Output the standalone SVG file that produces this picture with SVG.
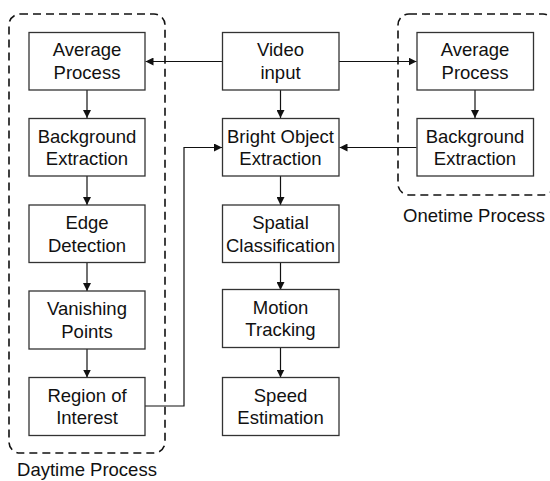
<svg xmlns="http://www.w3.org/2000/svg" width="550" height="481" viewBox="0 0 550 481">
<defs>
<marker id="arr" viewBox="0 0 10 10" refX="10" refY="5" markerWidth="8" markerHeight="8" markerUnits="userSpaceOnUse" orient="auto">
<path d="M0,0 L10,5 L0,10 z" fill="#111"/>
</marker>
<style>
.box{fill:#fff;stroke:#333;stroke-width:1.3}
.grp{fill:none;stroke:#111;stroke-width:1.6;stroke-dasharray:8 5}
.t{font-family:"Liberation Sans",Arial,sans-serif;font-size:18.5px;fill:#111;text-anchor:middle}
.c{fill:none;stroke:#111;stroke-width:1.2;marker-end:url(#arr)}
</style>
</defs>
<rect width="550" height="481" fill="#fff"/>
<g id="daytime-group">
<rect class="grp" x="9" y="14" width="156" height="439" rx="11"/>
<text class="t" x="87" y="476">Daytime Process</text>
</g>
<g id="onetime-group">
<rect class="grp" x="398" y="14" width="156" height="181" rx="11"/>
<text class="t" x="474" y="222">Onetime Process</text>
</g>
<g id="connectors">
<line class="c" x1="222" y1="61.5" x2="145.5" y2="61.5"/>
<line class="c" x1="339" y1="61.5" x2="416.5" y2="61.5"/>
<line class="c" x1="280.5" y1="90" x2="280.5" y2="118"/>
<line class="c" x1="475" y1="90" x2="475" y2="118"/>
<line class="c" x1="416.5" y1="147.5" x2="339.5" y2="147.5"/>
<line class="c" x1="87" y1="90" x2="87" y2="118"/>
<line class="c" x1="87" y1="176" x2="87" y2="205"/>
<line class="c" x1="87" y1="263" x2="87" y2="291"/>
<line class="c" x1="87" y1="349" x2="87" y2="377.5"/>
<polyline class="c" points="145,406 184,406 184,147.5 222,147.5"/>
<line class="c" x1="280.5" y1="176" x2="280.5" y2="205"/>
<line class="c" x1="280.5" y1="263" x2="280.5" y2="290"/>
<line class="c" x1="280.5" y1="347.5" x2="280.5" y2="377.5"/>
</g>
<g id="avg-left"><rect class="box" x="29" y="32.5" width="116" height="57.5"/><text class="t" x="87" y="56">Average</text><text class="t" x="87" y="78.5">Process</text></g>
<g id="bg-left"><rect class="box" x="29" y="118.5" width="116" height="57.5"/><text class="t" x="87" y="142.5">Background</text><text class="t" x="87" y="165">Extraction</text></g>
<g id="edge"><rect class="box" x="29" y="205" width="116" height="57.5"/><text class="t" x="87" y="229">Edge</text><text class="t" x="87" y="251.5">Detection</text></g>
<g id="vanish"><rect class="box" x="29" y="291" width="116" height="58"/><text class="t" x="87" y="315">Vanishing</text><text class="t" x="87" y="337.5">Points</text></g>
<g id="roi"><rect class="box" x="29" y="377.5" width="116" height="58"/><text class="t" x="87" y="401.5">Region of</text><text class="t" x="87" y="424">Interest</text></g>
<g id="video"><rect class="box" x="222.5" y="32.5" width="116.5" height="57.5"/><text class="t" x="280.5" y="56">Video</text><text class="t" x="280.5" y="78.5">input</text></g>
<g id="bright"><rect class="box" x="222.5" y="118.5" width="116.5" height="57.5"/><text class="t" x="280.5" y="142.5">Bright Object</text><text class="t" x="280.5" y="165">Extraction</text></g>
<g id="spatial"><rect class="box" x="222.5" y="205" width="116.5" height="57.5"/><text class="t" x="280.5" y="229">Spatial</text><text class="t" x="280.5" y="251.5">Classification</text></g>
<g id="motion"><rect class="box" x="222.5" y="289.5" width="116.5" height="58"/><text class="t" x="280.5" y="313.5">Motion</text><text class="t" x="280.5" y="336">Tracking</text></g>
<g id="speed"><rect class="box" x="222.5" y="377.5" width="116.5" height="58"/><text class="t" x="280.5" y="401.5">Speed</text><text class="t" x="280.5" y="424">Estimation</text></g>
<g id="avg-right"><rect class="box" x="417" y="32.5" width="116.5" height="57.5"/><text class="t" x="475" y="56">Average</text><text class="t" x="475" y="78.5">Process</text></g>
<g id="bg-right"><rect class="box" x="417" y="118.5" width="116.5" height="57.5"/><text class="t" x="475" y="142.5">Background</text><text class="t" x="475" y="165">Extraction</text></g>
</svg>
